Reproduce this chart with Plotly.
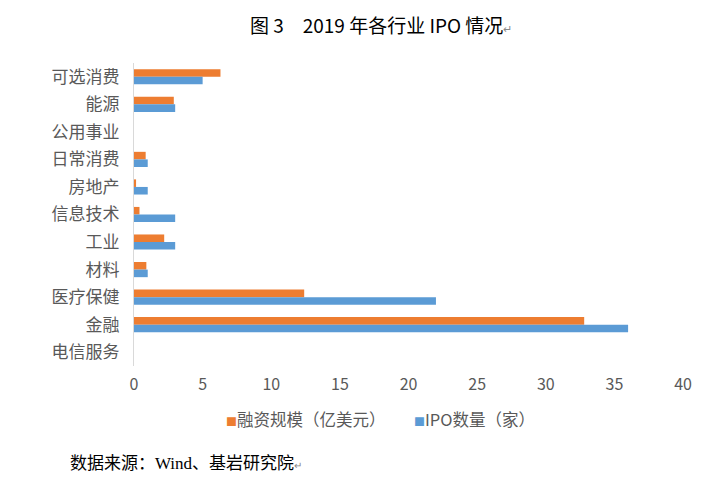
import plotly.graph_objects as go

categories = ["可选消费", "能源", "公用事业", "日常消费", "房地产", "信息技术", "工业", "材料", "医疗保健", "金融", "电信服务"]
financing = [6.3, 2.9, 0, 0.85, 0.15, 0.4, 2.2, 0.9, 12.4, 32.8, 0]
ipo_count = [5, 3, 0, 1, 1, 3, 3, 1, 22, 36, 0]
x_ticks = [0, 5, 10, 15, 20, 25, 30, 35, 40]
series_names = ["融资规模（亿美元）", "IPO数量（家）"]
series_colors = ["#ED7D31", "#5B9BD5"]

font_cjk = "Noto Sans CJK SC, Microsoft YaHei, sans-serif"

fig = go.Figure()
for name, vals, col in zip(series_names, [financing, ipo_count], series_colors):
    fig.add_trace(go.Bar(y=categories, x=vals, orientation="h", name=name,
                         marker=dict(color=col, line=dict(width=0))))

fig.update_layout(
    width=726, height=478,
    paper_bgcolor="white", plot_bgcolor="white",
    margin=dict(l=126, r=51, t=55, b=120, autoexpand=False),
    barmode="group", bargap=0.45, bargroupgap=0,
    font=dict(family=font_cjk, size=15, color="#595959"),
    title=dict(text="图 3　2019 年各行业 IPO 情况<span style='font-size:11px;color:#888'>↵</span>",
               x=0.514, xanchor="center", y=0.962, yanchor="middle",
               font=dict(family=font_cjk, size=19, color="#000000")),
    xaxis=dict(range=[0, 40], tickvals=x_ticks, showgrid=False, zeroline=False, automargin=False,
               showline=False, ticks="", ticklabelstandoff=7, tickfont=dict(size=16, color="#595959")),
    yaxis=dict(categoryorder="array", categoryarray=categories, autorange="reversed", automargin=False,
               showline=True, linecolor="#D9D9D9", linewidth=1, ticks="", showgrid=False,
               ticklabelstandoff=10, tickfont=dict(size=17, color="#595959")),
    showlegend=False,
)

legend_x = [0.164, 0.506]
for name, col, lx in zip(series_names, series_colors, legend_x):
    fig.add_annotation(text=f"<span style='color:{col};font-size:11px'>■</span>{name}",
                       xref="paper", yref="paper", x=lx, y=-0.175, xanchor="left", yanchor="middle",
                       showarrow=False, font=dict(family=font_cjk, size=16.5, color="#595959"))

fig.add_annotation(text="数据来源：Wind、基岩研究院<span style='font-size:10px;color:#888'>↵</span>",
                   xref="paper", yref="paper", x=-0.12, y=-0.323, xanchor="left", yanchor="middle",
                   showarrow=False, font=dict(family="Liberation Serif, Noto Sans CJK SC, serif", size=17, color="#000000"))

fig.write_html("out.html")
